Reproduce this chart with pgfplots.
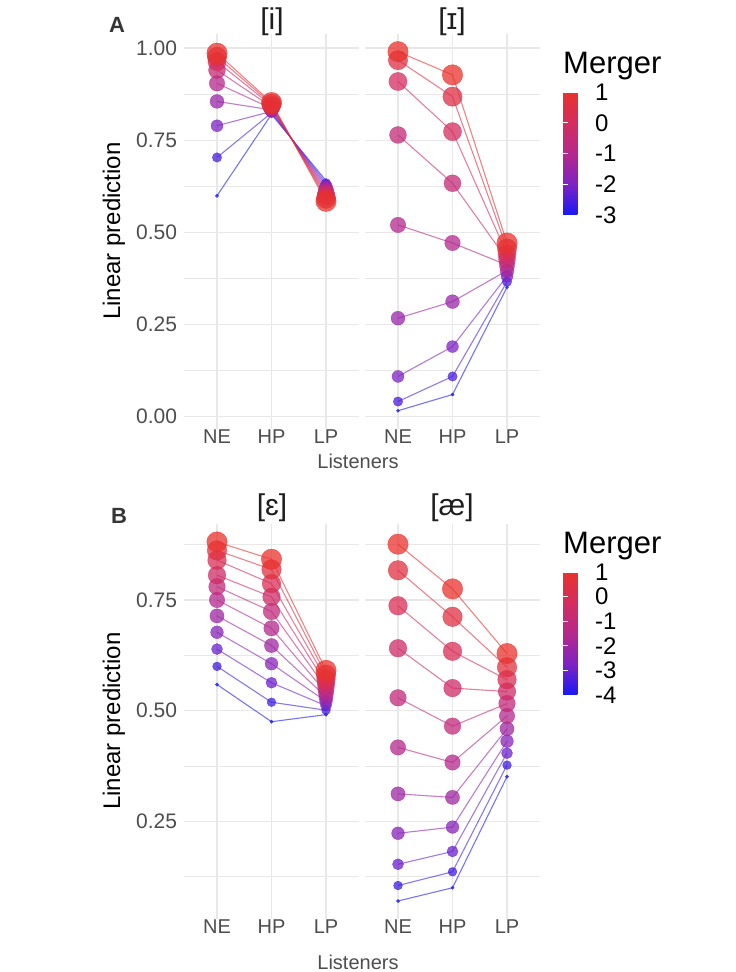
\documentclass[border=0pt]{standalone}
\usepackage{pgfplots}
\pgfplotsset{compat=1.18}
\usepackage{fontspec}
\setmainfont{Liberation Sans}
\definecolor{tickgray}{RGB}{77,77,77}
\definecolor{gridgray}{RGB}{232,232,232}
\definecolor{stripgray}{RGB}{30,30,30}
\pgfplotsset{colormap={merger}{rgb255=(25,25,245) rgb255=(125,35,195) rgb255=(180,40,140) rgb255=(212,44,95) rgb255=(232,50,45)}}

% #1 = merger position in colormap (0..1000), #2 NE, #3 HP, #4 LP
\newcommand\Ln[4]{\addplot[color of colormap=#1, line width=1.1pt, opacity=0.6, mark=none, forget plot] coordinates {(1,#2) (2,#3) (3,#4)};}
\newcommand\Pt[4]{\addplot[color of colormap=#1, only marks, mark=*, mark size={1.7*(1+5*sqrt(#1/1000))}, mark options={draw=none}, opacity=0.75, forget plot] coordinates {(1,#2) (2,#3) (3,#4)};}

% [i]  merger -3..1 step 0.5
\newcommand\dataI[1]{%
#1{0}{0.599}{0.820}{0.640}
#1{125}{0.703}{0.824}{0.633}
#1{250}{0.789}{0.828}{0.626}
#1{375}{0.855}{0.832}{0.619}
#1{500}{0.904}{0.836}{0.612}
#1{625}{0.940}{0.840}{0.605}
#1{750}{0.963}{0.844}{0.598}
#1{875}{0.976}{0.848}{0.591}
#1{1000}{0.986}{0.852}{0.584}}
% [I]
\newcommand\dataII[1]{%
#1{0}{0.016}{0.060}{0.351}
#1{125}{0.041}{0.109}{0.366}
#1{250}{0.109}{0.190}{0.381}
#1{375}{0.267}{0.312}{0.396}
#1{500}{0.520}{0.471}{0.411}
#1{625}{0.764}{0.633}{0.426}
#1{750}{0.909}{0.773}{0.441}
#1{875}{0.967}{0.868}{0.456}
#1{1000}{0.990}{0.927}{0.471}}
% [E]  merger -4..1 step 0.5
\newcommand\dataE[1]{%
#1{0}{0.559}{0.475}{0.491}
#1{100}{0.600}{0.519}{0.501}
#1{200}{0.639}{0.563}{0.511}
#1{300}{0.677}{0.606}{0.521}
#1{400}{0.714}{0.647}{0.531}
#1{500}{0.750}{0.686}{0.541}
#1{600}{0.780}{0.724}{0.551}
#1{700}{0.806}{0.757}{0.561}
#1{800}{0.840}{0.787}{0.571}
#1{900}{0.862}{0.819}{0.581}
#1{1000}{0.881}{0.842}{0.591}}
% [ae]
\newcommand\dataAE[1]{%
#1{0}{0.070}{0.100}{0.351}
#1{100}{0.105}{0.136}{0.377}
#1{200}{0.153}{0.182}{0.404}
#1{300}{0.223}{0.237}{0.431}
#1{400}{0.312}{0.304}{0.459}
#1{500}{0.417}{0.383}{0.488}
#1{600}{0.529}{0.465}{0.516}
#1{700}{0.641}{0.551}{0.543}
#1{800}{0.737}{0.634}{0.570}
#1{900}{0.817}{0.712}{0.598}
#1{1000}{0.876}{0.775}{0.629}}

\pgfplotsset{
  facet/.style={scale only axis, width=174.4pt, height=395pt, anchor=north west,
    xmin=0.4, xmax=3.6, xtick={1,2,3}, xticklabels={NE,HP,LP},
    axis line style={draw=none}, major tick length=0pt, minor tick length=0pt,
    grid=both, major grid style={gridgray, line width=1.1pt}, minor grid style={gridgray, line width=0.7pt},
    colormap name=merger,
    xticklabel style={font=\fontsize{20}{20}\selectfont, text=tickgray, inner sep=1pt},
    yticklabel style={font=\fontsize{21}{21}\selectfont, text=tickgray, inner sep=0pt, xshift=-7pt,
      /pgf/number format/assume math mode=true, /pgf/number format/fixed,
      /pgf/number format/fixed zerofill, /pgf/number format/precision=2}},
  cbar/.style={scale only axis, width=25pt, height=123pt, at={(parent axis.north east)}, anchor=north west,
    xshift=14.8pt, ytick pos=both, yticklabel pos=right, tick align=inside, major tick length=5pt,
    tick style={draw=white, line width=0.8pt}, axis line style={draw=none}, grid=none,
    yticklabel style={font=\fontsize{24}{24}\selectfont, text=black, inner sep=0pt, xshift=7pt,
      /pgf/number format/assume math mode=true},
    title={Merger}, title style={at={(0,1)}, anchor=base west, inner sep=0pt, yshift=12pt, font=\fontsize{31}{31}\selectfont}}
}

\begin{document}
\begin{tikzpicture}[x=1pt,y=1pt]
\useasboundingbox (0,0) rectangle (736,972);

% Row A
\begin{axis}[facet, at={(184.3pt,938.3pt)}, ymin=-0.0327, ymax=1.0387,
  ytick={0,0.25,0.5,0.75,1}, minor ytick={0.125,0.375,0.625,0.875}]
\dataI\Ln
\dataI\Pt
\end{axis}
\begin{axis}[facet, at={(365.3pt,938.3pt)}, ymin=-0.0327, ymax=1.0387,
  ytick={0,0.25,0.5,0.75,1}, minor ytick={0.125,0.375,0.625,0.875}, yticklabels={},
  colorbar, point meta min=-3, point meta max=1,
  colorbar style={cbar, yshift=-58.3pt, ytick={-3,-2,-1,0,1}}]
\dataII\Ln
\dataII\Pt
\end{axis}

% Row B
\begin{axis}[facet, at={(184.3pt,448pt)}, ymin=0.0294, ymax=0.9216,
  ytick={0.25,0.5,0.75}, minor ytick={0.125,0.375,0.625,0.875}]
\dataE\Ln
\dataE\Pt
\end{axis}
\begin{axis}[facet, at={(365.3pt,448pt)}, ymin=0.0294, ymax=0.9216,
  ytick={0.25,0.5,0.75}, minor ytick={0.125,0.375,0.625,0.875}, yticklabels={},
  colorbar, point meta min=-4, point meta max=1,
  colorbar style={cbar, yshift=-48pt, ytick={-4,-3,-2,-1,0,1}}]
\dataAE\Ln
\dataAE\Pt
\end{axis}

% facet titles
\node[font=\fontsize{30}{30}\selectfont, text=stripgray] at (272,950) {[i]};
\node[font=\fontsize{30}{30}\selectfont, text=stripgray] at (452,950) {[ɪ]};
\node[font=\fontsize{30}{30}\selectfont, text=stripgray] at (272,464) {[ɛ]};
\node[font=\fontsize{30}{30}\selectfont, text=stripgray] at (452,464) {[æ]};
% axis titles
\node[font=\fontsize{20}{20}\selectfont, text=tickgray, inner sep=0pt] at (358,511) {Listeners};
\node[font=\fontsize{20}{20}\selectfont, text=tickgray, inner sep=0pt] at (358,10) {Listeners};
\node[font=\fontsize{24}{24}\selectfont, rotate=90] at (114,741) {Linear prediction};
\node[font=\fontsize{24}{24}\selectfont, rotate=90] at (114,251) {Linear prediction};
% panel letters
\node[font=\fontsize{22}{22}\selectfont\bfseries, text=stripgray!90!white] at (117,947.5) {A};
\node[font=\fontsize{22}{22}\selectfont\bfseries, text=stripgray!90!white] at (119,456) {B};
\end{tikzpicture}
\end{document}
